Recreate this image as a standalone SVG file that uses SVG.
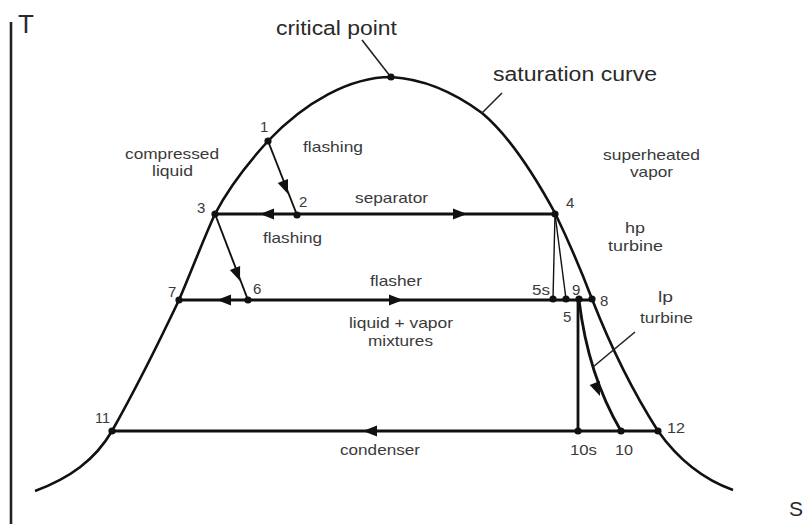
<svg xmlns="http://www.w3.org/2000/svg" xmlns:xlink="http://www.w3.org/1999/xlink" width="811" height="524" viewBox="0 0 811 524">
<style>
text{font-family:"Liberation Sans",Arial,sans-serif;fill:#3a3a3a;font-size:15px}
.big{font-size:20px;fill:#2a2a2a}
.ax{font-size:26px;fill:#2a2a2a}
.dome{fill:none;stroke:#111;stroke-width:2.6}
.proc{fill:none;stroke:#111;stroke-width:2.8}
.thin{fill:none;stroke:#111;stroke-width:1.4}
.med{fill:none;stroke:#111;stroke-width:1.9}
.lead{fill:none;stroke:#222;stroke-width:1.6}
.dot{fill:#111}
.ah{fill:#111}
</style>
<defs>
<path id="ah" d="M0,0 L-14,-5.5 L-14,5.5 Z"/>
</defs>
<rect width="811" height="524" fill="#fff"/>
<g id="axes">
<line x1="11" y1="22" x2="11" y2="524" stroke="#222" stroke-width="2.6"/>
<text class="ax" x="18" y="33">T</text>
<text class="ax" x="789" y="516" style="font-size:21px">S</text>
</g>
<g id="connectors">
<path id="saturation-curve" class="dome" d="M35,491 C70,478 95,460 112,431 C134,392 160,340 179,300 C192,270 203,240 215,214 C230,185 248,163 268,141 C305,102 350,77 391,77 C425,79 455,93 482,113 C512,138 537,180 555,213 C568,240 581,270 592,299 C612,350 635,395 658,431 C680,462 705,480 733,490"/>
<line class="proc" x1="215" y1="214" x2="555" y2="214"/>
<line class="proc" x1="179" y1="300" x2="592" y2="300"/>
<line class="proc" x1="112" y1="431" x2="658" y2="431"/>
<line class="med" x1="268" y1="141" x2="297" y2="215"/>
<line class="med" x1="215" y1="214" x2="248" y2="300"/>
<line class="thin" x1="555" y1="214" x2="553" y2="299"/>
<line class="thin" x1="555" y1="214" x2="566" y2="299"/>
<line class="proc" x1="578" y1="300" x2="578" y2="431"/>
<path class="proc" d="M579,300 Q588,375 621,431"/>
<line class="lead" x1="362" y1="40" x2="390" y2="76"/>
<line class="lead" x1="502" y1="93" x2="482" y2="113"/>
<line class="lead" x1="635" y1="332" x2="593" y2="367"/>
<use href="#ah" class="ah" transform="translate(260,214) rotate(180)"/>
<use href="#ah" class="ah" transform="translate(467,214)"/>
<use href="#ah" class="ah" transform="translate(217,300) rotate(180)"/>
<use href="#ah" class="ah" transform="translate(403,300)"/>
<use href="#ah" class="ah" transform="translate(363,431) rotate(180)"/>
<use href="#ah" class="ah" transform="translate(288,194) rotate(68.6)"/>
<use href="#ah" class="ah" transform="translate(240,281) rotate(69)"/>
<use href="#ah" class="ah" transform="translate(600,396) rotate(68)"/>
</g>
<g id="critical-point"><circle class="dot" cx="391" cy="77" r="3.6"/><text class="big" x="276" y="35" textLength="121" lengthAdjust="spacingAndGlyphs">critical point</text></g>
<g id="saturation-label"><text class="big" x="493" y="81" textLength="164" lengthAdjust="spacingAndGlyphs">saturation curve</text></g>
<g id="p1"><circle class="dot" cx="268" cy="141" r="3.6"/><text x="260" y="132">1</text></g>
<g id="p2"><circle class="dot" cx="297" cy="215" r="3.6"/><text x="299" y="207">2</text></g>
<g id="p3"><circle class="dot" cx="215" cy="214" r="3.6"/><text x="197" y="213">3</text></g>
<g id="p4"><circle class="dot" cx="555" cy="214" r="3.6"/><text x="566" y="208">4</text></g>
<g id="p5s"><circle class="dot" cx="553" cy="299" r="3.6"/><text x="532" y="295" textLength="18" lengthAdjust="spacingAndGlyphs">5s</text></g>
<g id="p5"><circle class="dot" cx="566" cy="299" r="3.6"/><text x="563" y="322">5</text></g>
<g id="p9"><circle class="dot" cx="579" cy="299" r="3.6"/><text x="572" y="295">9</text></g>
<g id="p8"><circle class="dot" cx="592" cy="299" r="3.6"/><text x="600" y="306">8</text></g>
<g id="p6"><circle class="dot" cx="248" cy="300" r="3.6"/><text x="253" y="294">6</text></g>
<g id="p7"><circle class="dot" cx="179" cy="300" r="3.6"/><text x="168" y="297">7</text></g>
<g id="p11"><circle class="dot" cx="112" cy="431" r="3.6"/><text x="95" y="423" textLength="15" lengthAdjust="spacingAndGlyphs">11</text></g>
<g id="p10s"><circle class="dot" cx="578" cy="431" r="3.6"/><text x="570" y="455" textLength="27" lengthAdjust="spacingAndGlyphs">10s</text></g>
<g id="p10"><circle class="dot" cx="621" cy="431" r="3.6"/><text x="615" y="455" textLength="18" lengthAdjust="spacingAndGlyphs">10</text></g>
<g id="p12"><circle class="dot" cx="658" cy="431" r="3.6"/><text x="667" y="433" textLength="18" lengthAdjust="spacingAndGlyphs">12</text></g>
<g id="labels">
<text x="125" y="159" textLength="94" lengthAdjust="spacingAndGlyphs">compressed</text>
<text x="152" y="176" textLength="41" lengthAdjust="spacingAndGlyphs">liquid</text>
<text x="303" y="152" textLength="60" lengthAdjust="spacingAndGlyphs">flashing</text>
<text x="263" y="243" textLength="59" lengthAdjust="spacingAndGlyphs">flashing</text>
<text x="355" y="203" textLength="73" lengthAdjust="spacingAndGlyphs">separator</text>
<text x="603" y="160" textLength="97" lengthAdjust="spacingAndGlyphs">superheated</text>
<text x="630" y="177" textLength="43" lengthAdjust="spacingAndGlyphs">vapor</text>
<text x="625" y="233" textLength="20" lengthAdjust="spacingAndGlyphs">hp</text>
<text x="608" y="251" textLength="55" lengthAdjust="spacingAndGlyphs">turbine</text>
<text x="370" y="286" textLength="52" lengthAdjust="spacingAndGlyphs">flasher</text>
<text x="349" y="328" textLength="104" lengthAdjust="spacingAndGlyphs">liquid + vapor</text>
<text x="368" y="346" textLength="65" lengthAdjust="spacingAndGlyphs">mixtures</text>
<text x="658" y="302" textLength="15" lengthAdjust="spacingAndGlyphs">lp</text>
<text x="640" y="323" textLength="53" lengthAdjust="spacingAndGlyphs">turbine</text>
<text x="340" y="455" textLength="80" lengthAdjust="spacingAndGlyphs">condenser</text>
</g>
</svg>
